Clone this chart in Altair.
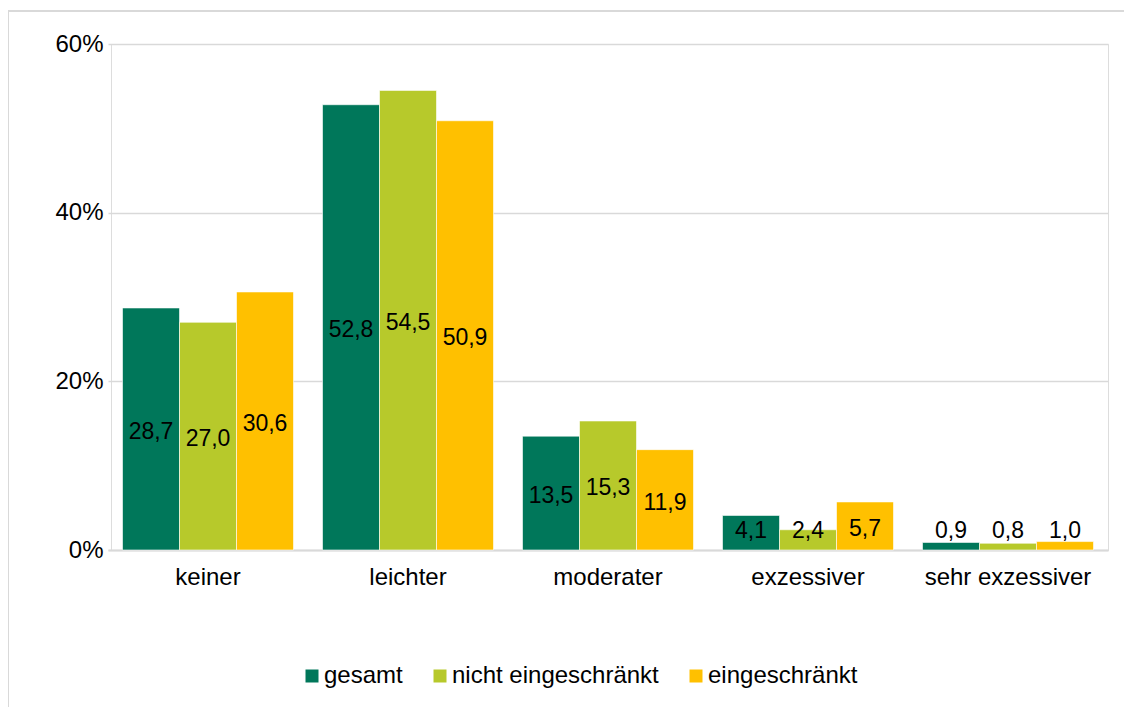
import altair as alt
import pandas as pd

categories = ["keiner", "leichter", "moderater", "exzessiver", "sehr exzessiver"]
series = ["gesamt", "nicht eingeschränkt", "eingeschränkt"]
gesamt = [28.7, 52.8, 13.5, 4.1, 0.9]
nicht_eingeschraenkt = [27.0, 54.5, 15.3, 2.4, 0.8]
eingeschraenkt = [30.6, 50.9, 11.9, 5.7, 1.0]
colors = ["#00775A", "#B7C92B", "#FFC000"]
y_ticks = [0, 20, 40, 60]

rows = []
for s, vals in zip(series, [gesamt, nicht_eingeschraenkt, eingeschraenkt]):
    for c, v in zip(categories, vals):
        rows.append({
            "Kategorie": c,
            "Gruppe": s,
            "Wert": v,
            "Label": f"{v:.1f}".replace(".", ","),
            "LabelPos": max(v / 2, 2.6),
        })
df = pd.DataFrame(rows)

FONT = "Liberation Sans"

x = alt.X("Kategorie:N", sort=categories, title=None,
          scale=alt.Scale(range=[-3, 997], paddingInner=0.145, paddingOuter=0.0725),
          axis=alt.Axis(labelAngle=0, ticks=False, domain=True, domainColor="#D9D9D9",
                        domainWidth=2, labelPadding=15, labelFontSize=24,
                        labelColor="#000000", labelFont=FONT, grid=False))
xo = alt.XOffset("Gruppe:N", sort=series, scale=alt.Scale(paddingInner=0, paddingOuter=0))

bars = alt.Chart(df).mark_bar(stroke="white", strokeWidth=0.6).encode(
    x=x,
    xOffset=xo,
    y=alt.Y("Wert:Q", title=None,
            scale=alt.Scale(domain=[0, 60], nice=False),
            axis=alt.Axis(values=y_ticks, labelExpr="datum.value + '%'", domain=False,
                          ticks=False, grid=True, gridColor="#D9D9D9", gridWidth=1.5,
                          labelPadding=8, labelFontSize=24, labelColor="#000000",
                          labelFont=FONT)),
    color=alt.Color("Gruppe:N", sort=series,
                    scale=alt.Scale(domain=series, range=colors),
                    legend=alt.Legend(title=None, orient="none", direction="horizontal",
                                      legendX=189, legendY=620, symbolType="square",
                                      symbolSize=169, symbolStrokeWidth=0,
                                      labelFontSize=24, labelFont=FONT,
                                      labelColor="#000000", labelOffset=0,
                                      columnPadding=25, labelLimit=400)),
)

labels = alt.Chart(df).mark_text(fontSize=23, font=FONT, color="#000000",
                                 baseline="middle", align="center", dy=3).encode(
    x=alt.X("Kategorie:N", sort=categories),
    xOffset=alt.XOffset("Gruppe:N", sort=series),
    y=alt.Y("LabelPos:Q"),
    text="Label:N",
)

frame = alt.Chart(df).mark_rect(fill=None, stroke="#D9D9D9", strokeWidth=2).encode(
    x=alt.value(-103), x2=alt.value(1040), y=alt.value(-33), y2=alt.value(720)
)

chart = alt.layer(frame, bars, labels).properties(
    width=997, height=506,
    padding={"left": 103, "top": 36, "right": 16, "bottom": 165},
    autosize=alt.AutoSizeParams(type="none"),
).configure_view(stroke=None).configure(background="white")

chart.save("out.html", embed_options={"renderer": "svg", "actions": False})
